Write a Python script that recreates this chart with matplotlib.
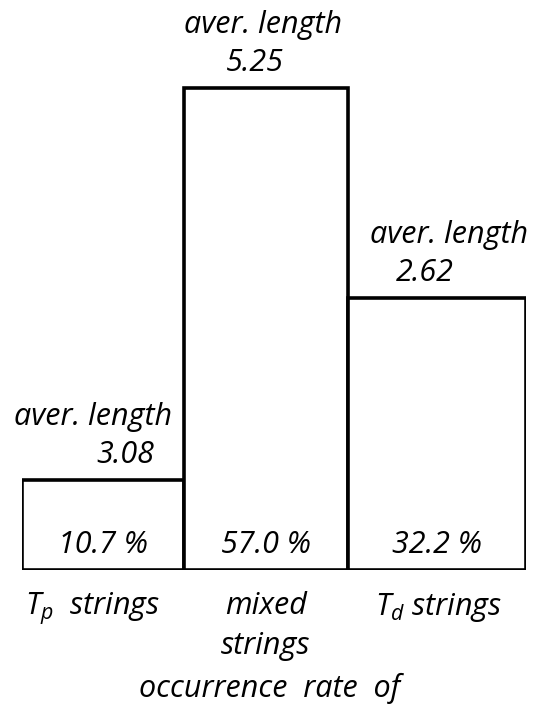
import matplotlib
matplotlib.use("Agg")
import matplotlib.pyplot as plt

# Occurrence rate (%) of each string type and its average length
categories = ["$T_p$  strings", "mixed\nstrings", "$T_d$ strings"]
occurrence = [10.7, 57.0, 32.2]
avg_length = [3.08, 5.25, 2.62]
pct_labels = ["10.7 %", "57.0 %", "32.2 %"]
xlabel = "occurrence  rate  of"

plt.rcParams["font.family"] = ["Open Sans", "DejaVu Sans"]
plt.rcParams["font.style"] = "italic"
plt.rcParams["mathtext.fontset"] = "custom"
plt.rcParams["mathtext.it"] = "Open Sans:italic"
plt.rcParams["mathtext.rm"] = "Open Sans:italic"

W, H, DPI = 538, 708, 100
fig = plt.figure(figsize=(W / DPI, H / DPI), dpi=DPI)
fig.patch.set_facecolor("white")

left_px, right_px, base_px, top_px = 22, 526, 570, 63
ax = fig.add_axes([left_px / W, (H - base_px) / H,
                   (right_px - left_px) / W, (base_px - top_px) / H])

# bar edges in axis units
lefts = [0.0, 0.964, 1.94]
widths = [0.964, 0.976, 1.06]
ax.bar(lefts, occurrence, width=widths, align="edge", facecolor="white",
       edgecolor="black", linewidth=2.6, joinstyle="miter")
ax.set_xlim(0, 3)
ax.set_ylim(0, 60)
ax.axis("off")

fs = 22
label_dx = [-10, -3, 12]
num_dx = [22, -11, -12]
for i, (x0, w, h) in enumerate(zip(lefts, widths, occurrence)):
    cx = x0 + w / 2
    ax.annotate("aver. length", (cx, h), xytext=(label_dx[i], 63),
                textcoords="offset pixels", ha="center", va="center",
                fontsize=fs, annotation_clip=False)
    ax.annotate(f"{avg_length[i]:.2f}", (cx, h), xytext=(num_dx[i], 25),
                textcoords="offset pixels", ha="center", va="center",
                fontsize=fs, annotation_clip=False)
    ax.annotate(pct_labels[i], (cx, 0), xytext=(0, 25),
                textcoords="offset pixels", ha="center", va="center",
                fontsize=fs, annotation_clip=False)

cat_dx = [-10, 0, 2]
for i, (x0, w) in enumerate(zip(lefts, widths)):
    cx = x0 + w / 2
    ax.annotate(categories[i], (cx, 0), xytext=(cat_dx[i], -21),
                textcoords="offset pixels", ha="center", va="top",
                fontsize=fs, linespacing=1.45, annotation_clip=False)

fig.text(270 / W, 1 - 688 / H, xlabel, ha="center", va="center", fontsize=fs)

fig.savefig("out.png", dpi=DPI, facecolor="white")
